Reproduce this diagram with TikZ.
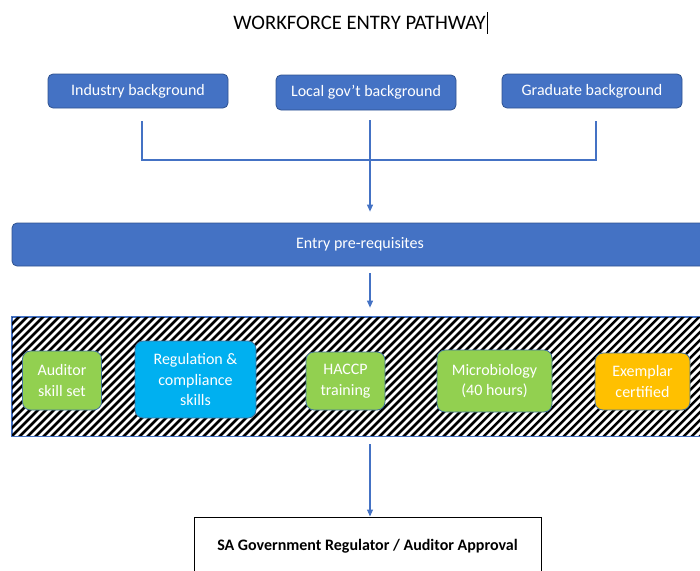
\documentclass[tikz,border=0pt]{standalone}
\usepackage{fontspec}
\setmainfont{Carlito}
\usetikzlibrary{arrows.meta}
\definecolor{accblue}{HTML}{4472C4}
\definecolor{accedge}{HTML}{2F528F}
\definecolor{inedge}{HTML}{41719C}
\definecolor{grn}{HTML}{92D050}
\definecolor{cyn}{HTML}{00B0F0}
\definecolor{orng}{HTML}{FFC000}
\begin{document}
\begin{tikzpicture}[x=1pt,y=-1pt,
  bluebox/.style={draw=accedge, line width=0.8pt, fill=accblue, rounded corners=5pt,
    text=white, font=\fontsize{16}{19.5}\selectfont, inner sep=0pt,
    minimum width=180pt, minimum height=34pt},
  innerbox/.style={draw=inedge, line width=0.8pt, rounded corners=8pt, text=white,
    font=\fontsize{16}{20.5}\selectfont, align=center, inner sep=0pt},
  conn/.style={draw=accblue, line width=1.1pt},
  arr/.style={-{Triangle[length=7pt,width=6pt]}}
]
\useasboundingbox (0,0) rectangle (700,570);

% title
\node[font=\fontsize{20.6}{24}\selectfont, inner sep=0pt] (title) at (359.5,23) {WORKFORCE ENTRY PATHWAY};
\draw[line width=0.9pt] ([xshift=1.5pt]title.east) ++(0,-11) -- ++(0,22);

% top boxes
\node[bluebox] (ind) at (138,91) {Industry background};
\node[bluebox, minimum height=35pt] (loc) at (366,92.5) {Local gov't background};
\node[bluebox] (grad) at (592,91) {Graduate background};

% connectors
\coordinate (c1) at (142,121);
\coordinate (c2) at (370,120);
\coordinate (c3) at (596,121);
\coordinate (jl) at (142,160);
\coordinate (jm) at (370,160);
\coordinate (jr) at (596,160);
\draw[conn] (c1) -- (jl) -- (jr) -- (c3);
\draw[conn] (c2) -- (jm);

% entry bar
\node[bluebox, minimum width=696pt, minimum height=43pt] (entry) at (360,244.5) {Entry pre-requisites};
\draw[conn, arr, shorten >=11pt] (jm) -- (jm |- entry.north);

% hatched band
\node[draw=accblue, line width=0.8pt, fill=white, minimum width=700pt, minimum height=119pt, inner sep=0pt] (band) at (362,376.5) {};
\begin{scope}
  \clip (band.north west) rectangle (band.south east);
  \foreach \k in {-18,...,92}
    \draw[line width=2.5pt] (\k*8, 440) -- ++(130,-130);
\end{scope}
\draw[accblue, line width=0.8pt] (band.north west) rectangle (band.south east);
\draw[conn, arr, shorten <=7pt, shorten >=9pt] (entry.south -| c2) -- (band.north -| c2);

% inner boxes
\node[innerbox, fill=grn, minimum width=79pt, minimum height=59pt] (aud) at (62,380.5) {Auditor\\skill set};
\node[innerbox, fill=cyn, minimum width=121pt, minimum height=77pt] (reg) at (195.5,379.5) {Regulation \&\\compliance\\skills};
\node[innerbox, fill=grn, minimum width=79pt, minimum height=58pt] (hac) at (345.5,381) {HACCP\\training};
\node[innerbox, fill=grn, minimum width=115pt, minimum height=62pt] (mic) at (494.5,381) {Microbiology\\(40 hours)};
\node[innerbox, fill=orng, minimum width=95pt, minimum height=57pt] (exe) at (642.5,381.5) {Exemplar\\certified};

% bottom box
\node[draw=black, line width=1pt, fill=white, minimum width=347pt, minimum height=58pt,
  inner sep=0pt, font=\bfseries\fontsize{16}{19.5}\selectfont] (sa) at (367.5,546)
  {SA Government Regulator / Auditor Approval};
\draw[conn, arr, shorten <=8pt] (band.south -| c2) -- (sa.north -| c2);
\end{tikzpicture}
\end{document}
